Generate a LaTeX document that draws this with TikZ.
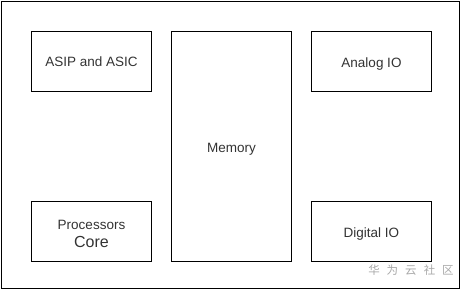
\documentclass[tikz,border=0pt]{standalone}
\usepackage{fontspec}
\setmainfont{Liberation Sans}
\newfontfamily\cjk{Noto Sans CJK SC}
\definecolor{txt}{HTML}{333333}
\definecolor{wm}{HTML}{A8A8A8}
\begin{document}
\begin{tikzpicture}[x=1pt,y=-1pt,
  box/.style={draw=black, line width=0.9pt, minimum width=120pt, minimum height=60pt, inner sep=0pt, align=center, text=txt, font=\fontsize{13.5}{17}\selectfont},
  low/.style={text height=12.7pt, text depth=0pt},
  outer/.style={draw=black, line width=0.9pt}]
\useasboundingbox (0,0) rectangle (464,293);
\node[outer, minimum width=458pt, minimum height=287pt, inner sep=0pt] (frame) at (230.5,145) {};
\node[box] (asip) at (91.5,61.5) {ASIP and ASIC};
\node[box, low, minimum height=230pt] (mem) at (231.5,146.5) {Memory};
\node[box, low] (analog) at (371.5,61.5) {Analog IO};
\node[box] (proc) at (91.5,231.5) {\rule{0pt}{13.7pt}Processors\\[0.5pt]{\fontsize{16}{17}\selectfont Core}};
\node[box, low] (digital) at (371.5,231.5) {Digital IO};
\node[text=wm, font=\cjk\fontsize{11.5}{13}\selectfont, inner sep=0pt] (wmark) at (411,270) {华\hspace{7pt}为\hspace{7pt}云\hspace{7pt}社\hspace{7pt}区};
\end{tikzpicture}
\end{document}
